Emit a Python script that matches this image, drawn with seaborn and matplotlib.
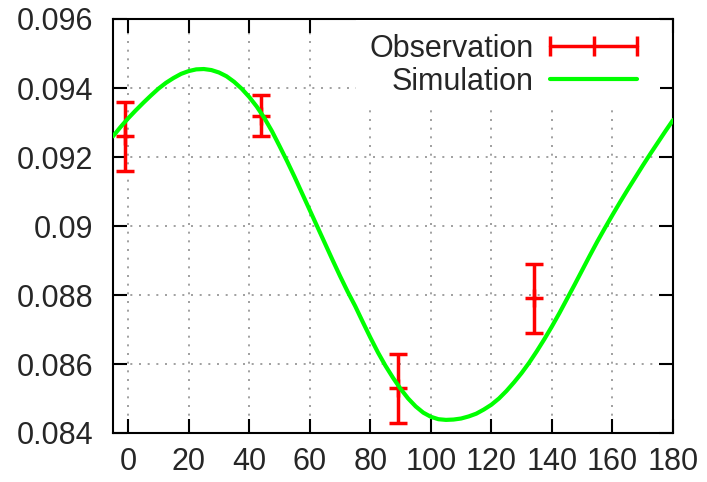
import numpy as np
import pandas as pd
import matplotlib
matplotlib.use("Agg")
import matplotlib.pyplot as plt
from matplotlib.lines import Line2D
import seaborn as sns

# observations (angle, value, error)
obs_x = [-1, 44, 89, 134]
obs_y = [0.0926, 0.0932, 0.0853, 0.0879]
obs_err = [0.0010, 0.0006, 0.0010, 0.0010]

# simulation curve
sim_x = [-5, -2.5, 0, 2.5, 5, 7.5, 10, 12.5, 15, 17.5, 20, 22.5, 25, 27.5,
         30, 32.5, 35, 37.5, 40, 42.5, 45, 47.5, 50, 52.5, 55, 57.5, 60,
         62.5, 65, 67.5, 70, 72.5, 75, 77.5, 80, 82.5, 85, 87.5, 90, 92.5,
         95, 97.5, 100, 102.5, 105, 107.5, 110, 112.5, 115, 117.5, 120,
         122.5, 125, 127.5, 130, 132.5, 135, 137.5, 140, 142.5, 145, 147.5,
         150, 152.5, 155, 157.5, 160, 162.5, 165, 167.5, 170, 172.5, 175,
         177.5, 180]
sim_y = [0.09260, 0.09287, 0.09312, 0.09335, 0.09357, 0.09378, 0.09398,
         0.09415, 0.09429, 0.09441, 0.09449, 0.09454, 0.09455, 0.09452,
         0.09445, 0.09434, 0.09418, 0.09398, 0.09374, 0.09346, 0.09313,
         0.09275, 0.09232, 0.09188, 0.09142, 0.09094, 0.09046, 0.08998,
         0.08950, 0.08902, 0.08855, 0.08810, 0.08768, 0.08722, 0.08677,
         0.08634, 0.08595, 0.08560, 0.08528, 0.08500, 0.08477, 0.08459,
         0.08447, 0.08440, 0.08438, 0.08439, 0.08442, 0.08448, 0.08456,
         0.08468, 0.08482, 0.08500, 0.08522, 0.08547, 0.08574, 0.08604,
         0.08637, 0.08672, 0.08709, 0.08748, 0.08789, 0.08830, 0.08872,
         0.08914, 0.08955, 0.08994, 0.09032, 0.09069, 0.09105, 0.09140,
         0.09175, 0.09209, 0.09242, 0.09275, 0.09307]

x_ticks = [0, 20, 40, 60, 80, 100, 120, 140, 160, 180]
y_ticks = [0.084, 0.086, 0.088, 0.09, 0.092, 0.094, 0.096]
y_labels = ["0.084", "0.086", "0.088", "0.09", "0.092", "0.094", "0.096"]

sim = pd.DataFrame({"angle": sim_x, "value": sim_y})

sns.set_theme(style="ticks")
plt.rcParams["font.family"] = ["Liberation Sans", "DejaVu Sans"]

fig = plt.figure(figsize=(7.07, 4.82), dpi=100)
ax = fig.add_axes([113 / 707, 1 - 433 / 482, 560 / 707, 414 / 482])

red = "#ff0000"
green = "#00ff00"

ax.errorbar(obs_x, obs_y, yerr=obs_err, fmt="+", color=red, ecolor=red,
            markersize=13, markeredgewidth=2.5, elinewidth=2.5,
            capsize=6.5, capthick=2.5, zorder=2)
sns.lineplot(data=sim, x="angle", y="value", color=green, lw=3, ax=ax,
             zorder=3, legend=False)
ax.lines[-1].set_solid_joinstyle("round")

ax.set_xlim(-5, 180)
ax.set_ylim(0.084, 0.096)
ax.set_xticks(x_ticks)
ax.set_yticks(y_ticks)
ax.set_yticklabels(y_labels)
ax.set_xlabel("")
ax.set_ylabel("")

ax.grid(True, color="#909090", linestyle=(0, (1.2, 4)), lw=1.2, zorder=0)
ax.tick_params(axis="both", which="major", direction="in", length=10,
               width=1.5, color="black", labelsize=22, top=True, right=True)
ax.tick_params(axis="x", pad=10)
ax.tick_params(axis="y", pad=14)
for s in ax.spines.values():
    s.set_color("black")
    s.set_linewidth(1.5)

handles = [
    Line2D([], [], color=red, lw=2.5, marker="|", markersize=14,
           markeredgewidth=2.5),
    Line2D([], [], color=green, lw=3),
]
leg = ax.legend(handles, ["Observation", "Simulation"], loc="upper right",
                bbox_to_anchor=(0.977, 0.998), borderaxespad=0,
                borderpad=0.45, numpoints=3, markerfirst=False,
                handlelength=3.46, handletextpad=0.23, labelspacing=0.1,
                fontsize=22, frameon=True, fancybox=False,
                framealpha=1, facecolor="white", edgecolor="none")
leg.set_zorder(5)

fig.savefig("out.png", dpi=100)
